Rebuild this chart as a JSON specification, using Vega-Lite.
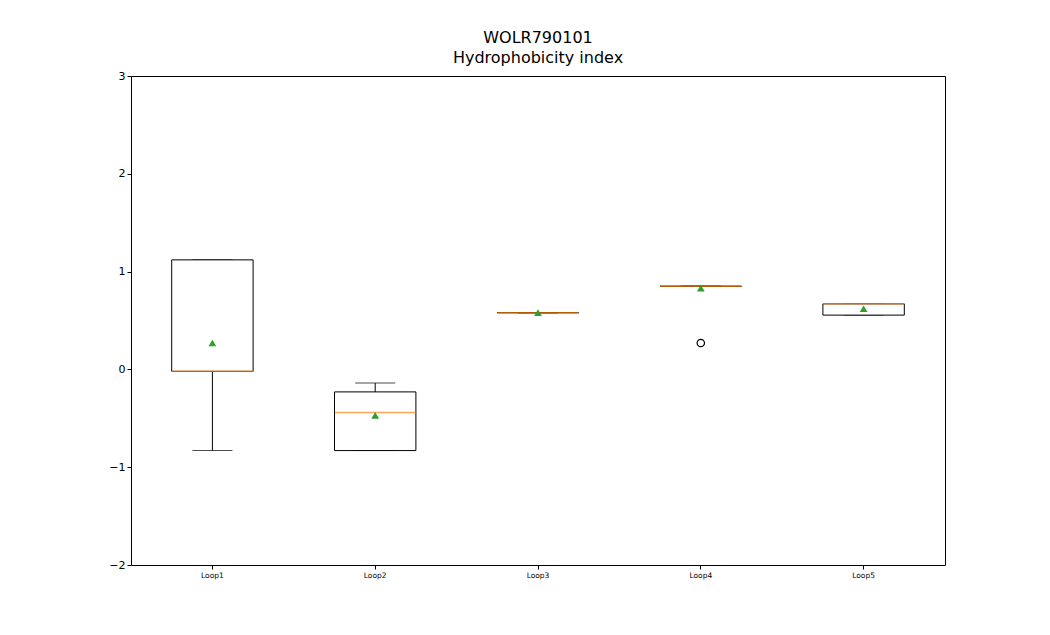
{
  "$schema": "https://vega.github.io/schema/vega-lite/v6.json",
  "width": 814,
  "height": 489,
  "autosize": "none",
  "padding": {"left": 131, "top": 76, "right": 105, "bottom": 70},
  "title": {"text": ["WOLR790101", "Hydrophobicity index"], "font": "DejaVu Sans", "fontSize": 16, "fontWeight": "normal", "color": "#000", "offset": 4, "lineHeight": 20},
  "config": {
    "view": {"stroke": "#000", "strokeWidth": 1},
    "font": "DejaVu Sans",
    "axis": {"grid": false, "domain": false, "labelColor": "#000", "tickColor": "#000", "title": null, "labelFont": "DejaVu Sans"}
  },
  "data": {"values": [
    {"loop": "Loop1", "low": -0.83, "q1": -0.02, "median": -0.02, "q3": 1.12, "high": 1.12, "mean": 0.27},
    {"loop": "Loop2", "low": -0.83, "q1": -0.83, "median": -0.44, "q3": -0.23, "high": -0.14, "mean": -0.47},
    {"loop": "Loop3", "low": 0.58, "q1": 0.58, "median": 0.58, "q3": 0.58, "high": 0.58, "mean": 0.58},
    {"loop": "Loop4", "low": 0.85, "q1": 0.85, "median": 0.85, "q3": 0.85, "high": 0.85, "mean": 0.83},
    {"loop": "Loop5", "low": 0.555, "q1": 0.555, "median": 0.67, "q3": 0.67, "high": 0.67, "mean": 0.62}
  ]},
  "encoding": {
    "x": {"field": "loop", "type": "nominal", "scale": {"paddingInner": 0.5, "paddingOuter": 0.25}, "axis": {"labelAngle": 0, "labelFontSize": 7.5, "tickSize": 4}}
  },
  "layer": [
    {"mark": {"type": "rule", "color": "#000"},
     "encoding": {"y": {"field": "low", "type": "quantitative", "scale": {"domain": [-2, 3]}, "axis": {"values": [-2, -1, 0, 1, 2, 3], "labelExpr": "replace(format(datum.value, 'd'), '-', '\u2212')", "labelFontSize": 11, "tickSize": 4}}, "y2": {"field": "high"}}},
    {"mark": {"type": "tick", "color": "#000", "size": 40, "thickness": 1}, "encoding": {"y": {"field": "low", "type": "quantitative"}}},
    {"mark": {"type": "tick", "color": "#000", "size": 40, "thickness": 1}, "encoding": {"y": {"field": "high", "type": "quantitative"}}},
    {"mark": {"type": "bar", "fill": "#fff", "stroke": "#000", "strokeWidth": 1}, "encoding": {"y": {"field": "q1", "type": "quantitative"}, "y2": {"field": "q3"}}},
    {"mark": {"type": "tick", "color": "#ff7f0e", "size": 81, "thickness": 1.5}, "encoding": {"y": {"field": "median", "type": "quantitative"}}},
    {"mark": {"type": "point", "shape": "triangle-up", "filled": true, "color": "#2ca02c", "size": 60, "opacity": 1}, "encoding": {"y": {"field": "mean", "type": "quantitative"}}},
    {"data": {"values": [{"loop": "Loop4", "value": 0.27}]},
     "mark": {"type": "point", "shape": "circle", "filled": false, "color": "#000", "size": 55, "strokeWidth": 1.2, "opacity": 1},
     "encoding": {"y": {"field": "value", "type": "quantitative"}}}
  ]
}
